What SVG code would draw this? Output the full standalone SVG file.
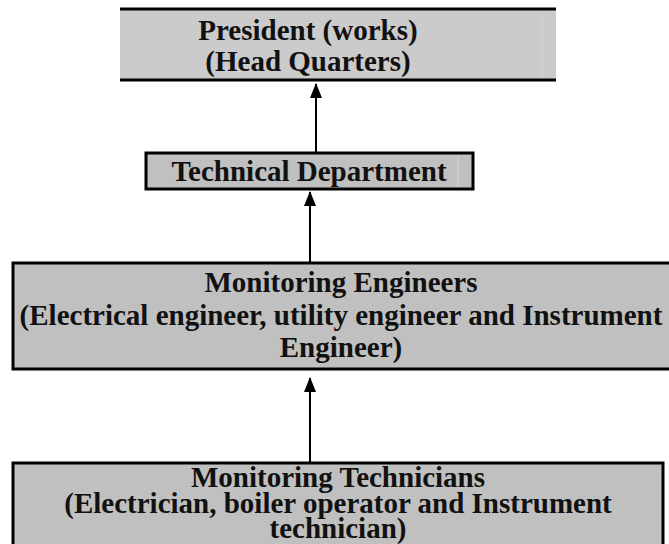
<svg xmlns="http://www.w3.org/2000/svg" width="669" height="544" viewBox="0 0 669 544">
  <defs>
    <marker id="arrowhead" viewBox="0 0 15 12" refX="14" refY="6" markerWidth="15" markerHeight="12" markerUnits="userSpaceOnUse" orient="auto">
      <path d="M0,0 L15,6 L0,12 Z" fill="#000"/>
    </marker>
  </defs>
  <style>
    .box { fill: #c0c0c0; stroke: #000; stroke-width: 3; }
    .label { font-family: "Liberation Serif", "Times New Roman", serif; font-weight: bold; font-size: 29px; fill: #111; text-anchor: middle; }
    .edge { stroke: #000; stroke-width: 2; fill: none; }
    .seam { stroke: #d4d4d4; stroke-width: 1; }
  </style>
  <rect width="669" height="544" fill="#fff"/>

  <g id="connectors">
    <line class="edge" x1="316" y1="153" x2="316" y2="84" marker-end="url(#arrowhead)"/>
    <line class="edge" x1="310" y1="263" x2="310" y2="192" marker-end="url(#arrowhead)"/>
    <line class="edge" x1="310" y1="463" x2="310" y2="378" marker-end="url(#arrowhead)"/>
  </g>

  <g id="president">
    <rect x="120" y="9" width="436" height="71" fill="#cbcbcb"/>
    <line x1="120" y1="9" x2="556" y2="9" stroke="#000" stroke-width="3"/>
    <line x1="120" y1="80" x2="556" y2="80" stroke="#000" stroke-width="3"/>
    <line class="seam" x1="542" y1="11" x2="542" y2="78"/>
    <text class="label" x="308" y="40">President (works)</text>
    <text class="label" x="308" y="71">(Head Quarters)</text>
  </g>

  <g id="technical-department">
    <rect class="box" x="146" y="153" width="327" height="36"/>
    <line class="seam" x1="458" y1="155" x2="458" y2="187"/>
    <text class="label" x="309" y="181">Technical Department</text>
  </g>

  <g id="monitoring-engineers">
    <rect class="box" x="13" y="263" width="664" height="106"/>
    <text class="label" x="341" y="292">Monitoring Engineers</text>
    <text class="label" x="341" y="325">(Electrical engineer, utility engineer and Instrument</text>
    <text class="label" x="341" y="357">Engineer)</text>
  </g>

  <g id="monitoring-technicians">
    <rect class="box" x="13" y="463" width="650" height="90"/>
    <text class="label" x="338" y="487">Monitoring Technicians</text>
    <text class="label" x="338" y="513">(Electrician, boiler operator and Instrument</text>
    <text class="label" x="338" y="538">technician)</text>
  </g>
</svg>
